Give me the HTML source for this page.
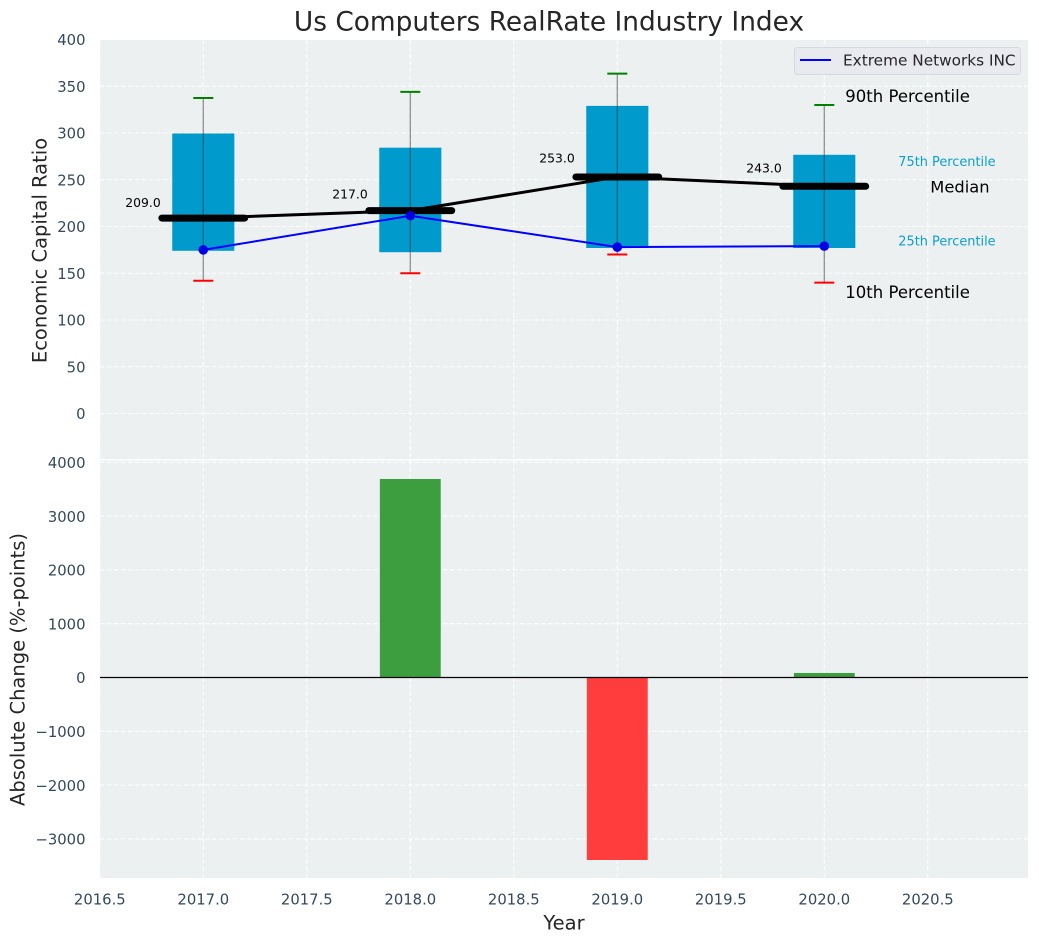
<!DOCTYPE html>
<html lang="en">
<head>
<meta charset="utf-8">
<title>Us Computers RealRate Industry Index</title>
<style>
html,body{margin:0;padding:0;background:#fff;width:1039px;height:942px;overflow:hidden}
svg{display:block;font-family:"DejaVu Sans","Liberation Sans",sans-serif}
</style>
</head>
<body>
<svg id="chart" xmlns="http://www.w3.org/2000/svg" width="1039" height="942" viewBox="0 0 1039 942"></svg>
<script>
const years = [2017, 2018, 2019, 2020];
const p90 = [337.5, 344, 363.5, 330];
const p75 = [299.5, 284.3, 329, 276.7];
const medians = [209, 217, 253, 243];
const p25 = [174, 172.5, 177, 177];
const p10 = [142, 150, 170, 140];
const company = [175, 211.5, 178, 179];
const changes = [0, 3690, -3392, 84];
const xTicks = [2016.5, 2017, 2017.5, 2018, 2018.5, 2019, 2019.5, 2020, 2020.5];
const topTicks = [0, 50, 100, 150, 200, 250, 300, 350, 400];
const bottomTicks = [-3000, -2000, -1000, 0, 1000, 2000, 3000, 4000];
const companyName = 'Extreme Networks INC';

const NS = 'http://www.w3.org/2000/svg';
const svg = document.getElementById('chart');
const X = v => 203.3 + (v - 2017) * 207;
const YT = v => 413.5 - v * 0.935;
const YB = v => 677.5 - v * 0.0538;
const LEFT = 100, RIGHT = 1028, T1 = 40, B1 = 459, T2 = 460.5, B2 = 878;
const TICK = '#34495e', INK = '#262626';

function mk(tag, attrs, parent) {
  const el = document.createElementNS(NS, tag);
  for (const k in attrs) el.setAttribute(k, attrs[k]);
  (parent || svg).appendChild(el);
  return el;
}
function txt(str, x, y, size, fill, anchor, parent) {
  const el = mk('text', {x: x, y: y, 'font-size': size, fill: fill, 'text-anchor': anchor || 'middle', 'dominant-baseline': 'central'}, parent);
  el.textContent = str;
  return el;
}
function tickLabel(v) {
  return (v < 0 ? '\u2212' : '') + Math.abs(v);
}

const title = txt('Us Computers RealRate Industry Index', 549, 22, 26.4, INK);



const panelTop = mk('rect', {x: LEFT, y: T1, width: RIGHT - LEFT, height: B1 - T1, fill: '#ecf0f1'});


const panelBottom = mk('rect', {x: LEFT, y: T2, width: RIGHT - LEFT, height: B2 - T2, fill: '#ecf0f1'});



const gridStyle = {stroke: '#ffffff', 'stroke-width': 1.1, 'stroke-dasharray': '4.5 2.5', opacity: 0.9};
const grid = mk('g', gridStyle);


xTicks.forEach(v => {
  mk('line', {x1: X(v), x2: X(v), y1: T1, y2: B1}, grid);
  mk('line', {x1: X(v), x2: X(v), y1: T2, y2: B2}, grid);
});
topTicks.forEach(v => mk('line', {x1: LEFT, x2: RIGHT, y1: YT(v), y2: YT(v)}, grid));
bottomTicks.forEach(v => mk('line', {x1: LEFT, x2: RIGHT, y1: YB(v), y2: YB(v)}, grid));

topTicks.forEach(v => {
  const t = txt(tickLabel(v), 85.5, YT(v) + 1.2, 14.8, TICK, 'end');
  
  
});
bottomTicks.forEach(v => {
  const t = txt(tickLabel(v), 85.5, YB(v) + 1.2, 14.8, TICK, 'end');
  
  
});
xTicks.forEach(v => {
  const t = txt(v.toFixed(1), X(v), 900, 14.8, TICK);
  
  
});

const yTop = txt('Economic Capital Ratio', 40, 250.5, 19.5, INK);
yTop.setAttribute('transform', 'rotate(-90 40 250.5)');


const yBottom = txt('Absolute Change (%-points)', 18, 669.5, 19.5, INK);
yBottom.setAttribute('transform', 'rotate(-90 18 669.5)');


const xTitle = txt('Year', 564, 923, 19.5, INK);



/* percentile boxes */
years.forEach((yr, i) => {
  const box = mk('rect', {x: X(yr - 0.15), y: YT(p75[i]), width: X(yr + 0.15) - X(yr - 0.15), height: YT(p25[i]) - YT(p75[i]), fill: '#009bcc'});
  
  
});

/* median connecting line */
const medianLine = mk('polyline', {points: years.map((yr, i) => X(yr) + ',' + YT(medians[i])).join(' '), fill: 'none', stroke: '#000', 'stroke-width': 3});



/* company line */
const companyLine = mk('polyline', {points: years.map((yr, i) => X(yr) + ',' + YT(company[i])).join(' '), fill: 'none', stroke: '#0000ff', 'stroke-width': 2});



years.forEach((yr, i) => {
  const whisker = mk('line', {x1: X(yr), x2: X(yr), y1: YT(p90[i]), y2: YT(p10[i]), stroke: '#2b2b2b', 'stroke-opacity': 0.5, 'stroke-width': 1.3});
  
  

  const capHigh = mk('line', {x1: X(yr) - 10, x2: X(yr) + 10, y1: YT(p90[i]), y2: YT(p90[i]), stroke: '#008000', 'stroke-width': 2});
  
  

  const capLow = mk('line', {x1: X(yr) - 10, x2: X(yr) + 10, y1: YT(p10[i]), y2: YT(p10[i]), stroke: '#ff0000', 'stroke-width': 2});
  
  

  const med = mk('line', {x1: X(yr - 0.2), x2: X(yr + 0.2), y1: YT(medians[i]), y2: YT(medians[i]), stroke: '#000', 'stroke-width': 7, 'stroke-linecap': 'round'});
  
  

  const dot = mk('circle', {cx: X(yr), cy: YT(company[i]), r: 4.8, fill: '#0000e6'});
  
  

  const label = txt(medians[i].toFixed(1), X(yr) - 60.3, YT(medians[i] * 1.081), 12.4, '#000');
  
  
});

/* percentile key, placed beside the last year's marks */
const last = years.length - 1;
const p90Key = txt('90th Percentile', X(years[last]) + 21, YT(p90[last]) - 8.6, 16.5, '#000', 'start');


const p75Key = txt('75th Percentile', X(years[last]) + 74, YT(p75[last]) + 7.8, 12.9, '#0b9fd0', 'start');


const medKey = txt('Median', X(years[last]) + 106, YT(medians[last]) + 0.5, 16.3, '#000', 'start');


const p25Key = txt('25th Percentile', X(years[last]) + 74, YT(p25[last]) - 6.2, 12.9, '#0b9fd0', 'start');


const p10Key = txt('10th Percentile', X(years[last]) + 21, YT(p10[last]) + 10, 16.5, '#000', 'start');



/* legend */
const legend = mk('g', {});


mk('rect', {x: 794.5, y: 47.5, width: 226, height: 27, rx: 3, fill: '#e8eaf0', stroke: '#d6d9dd', 'stroke-width': 1}, legend);
const legendLine = mk('line', {x1: 800, x2: 831, y1: 60, y2: 60, stroke: '#0000ff', 'stroke-width': 2}, legend);


const legendText = txt(companyName, 843, 60.5, 15.3, INK, 'start', legend);



/* change bars */
years.forEach((yr, i) => {
  const v = changes[i];
  if (v === 0) return;
  const y0 = Math.min(YB(v), YB(0));
  const bar = mk('rect', {x: X(yr - 0.147), y: y0, width: X(yr + 0.147) - X(yr - 0.147), height: Math.abs(YB(v) - YB(0)), fill: v >= 0 ? '#3d9e3f' : '#ff3d3d'});
  
  
});

const zero = mk('line', {x1: LEFT, x2: RIGHT, y1: YB(0), y2: YB(0), stroke: '#000', 'stroke-width': 1.2});


</script>
</body>
</html>
